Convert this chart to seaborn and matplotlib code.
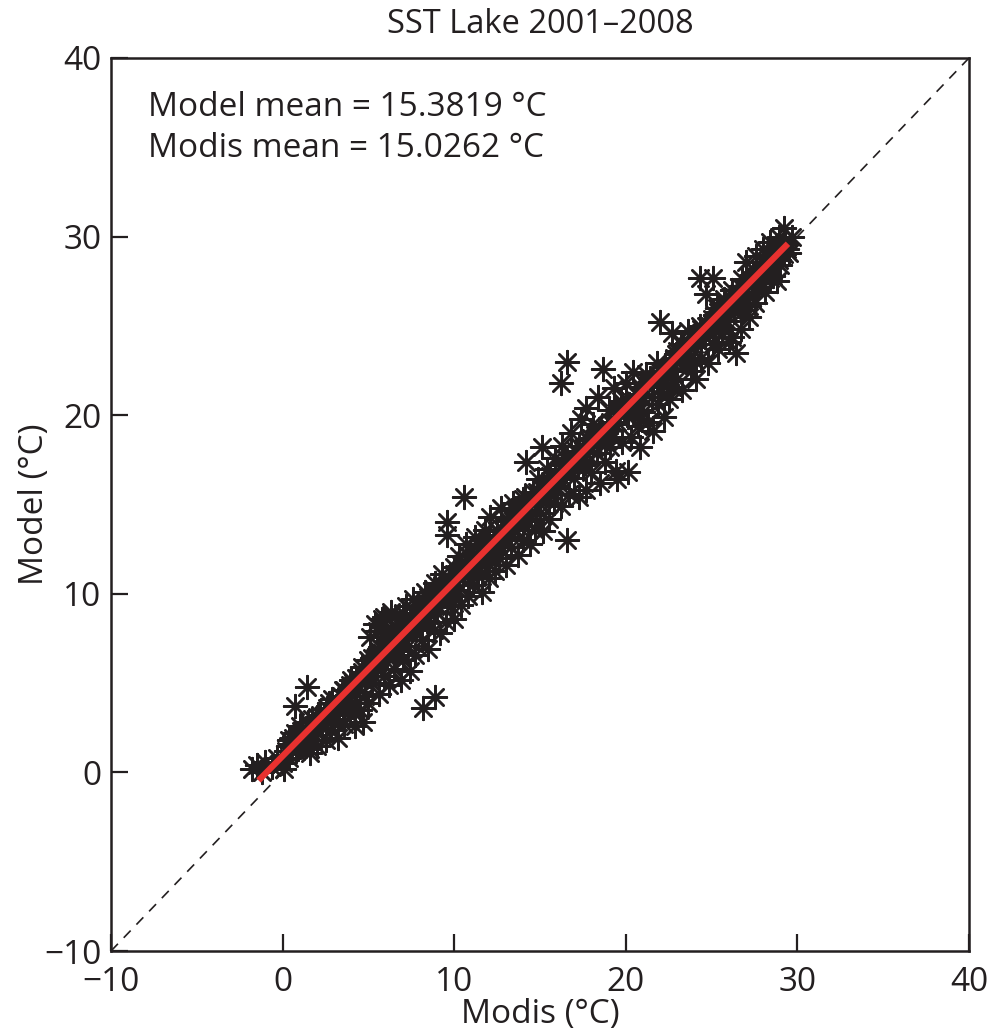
import matplotlib
matplotlib.use("Agg")
import matplotlib.pyplot as plt
import seaborn as sns
import pandas as pd

# ---------------- data ----------------
modis = [
    -1.8, -1.5, -1.2, -1.0, -0.6, -0.3, 0.0, 0.2, 0.4,
    0.5, 0.7, 0.7, 0.9, 1.0, 1.2, 1.4, 1.4, 1.6, 1.7, 1.9, 2.0, 2.2, 2.3, 2.5,
    2.6, 2.8, 2.9, 3.0, 3.2, 3.3, 3.5, 3.6, 3.8, 3.9, 4.0, 4.2, 4.3, 4.5, 4.6, 4.7, 4.8, 5.0, 5.0,
    5.1, 5.2, 5.4, 5.5, 5.6, 5.7, 5.8, 5.9, 6.0, 6.1, 6.2, 6.3, 6.4, 6.5, 6.6, 6.8, 6.9, 7.0, 7.0, 7.2, 7.3, 7.4, 7.5,
    7.6, 7.7, 7.8, 8.0, 8.1, 8.2, 8.3, 8.4, 8.5, 8.6, 8.8, 8.9, 8.9, 9.0, 9.2, 9.3, 9.4, 9.5, 9.6, 9.6, 9.7, 9.8, 10.0, 10.0,
    10.2, 10.3, 10.4, 10.6, 10.6, 10.7, 10.8, 11.0, 11.1, 11.2, 11.4, 11.5, 11.6, 11.8, 11.9, 12.0, 12.1, 12.2, 12.4, 12.5,
    12.6, 12.7, 12.9, 13.0, 13.1, 13.3, 13.4, 13.5, 13.7, 13.8, 14.0, 14.0, 14.2, 14.3, 14.4, 14.6, 14.7, 14.9, 15.0, 15.1, 15.2, 15.3,
    15.4, 15.5, 15.6, 15.8, 15.9, 16.0, 16.2, 16.2, 16.3, 16.4, 16.6, 16.6, 16.6, 16.7, 16.8, 17.0, 17.1, 17.3, 17.4, 17.5,
    17.7, 17.7, 17.8, 18.0, 18.1, 18.3, 18.4, 18.5, 18.7, 18.7, 18.8, 19.0, 19.1, 19.3, 19.4, 19.5, 19.5, 19.7, 19.8, 20.0, 20.1, 20.1,
    20.3, 20.4, 20.5, 20.7, 20.8, 20.9, 21.0, 21.2, 21.3, 21.5, 21.6, 21.8, 21.9, 22.0, 22.1, 22.2, 22.4, 22.5,
    22.7, 22.7, 22.9, 23.0, 23.2, 23.3, 23.5, 23.6, 23.8, 24.0, 24.1, 24.3, 24.3, 24.4, 24.6, 24.7, 24.8, 25.0, 25.1, 25.1,
    25.3, 25.4, 25.6, 25.7, 25.9, 26.0, 26.2, 26.2, 26.3, 26.4, 26.5, 26.7, 26.8, 26.9, 27.0, 27.1, 27.2, 27.4, 27.5,
    27.6, 27.7, 27.9, 28.0, 28.1, 28.3, 28.4, 28.6, 28.7, 28.9, 29.0, 29.2, 29.4, 29.7,
    # dense core along the band
    0.3, 1.1, 1.8, 2.7, 3.4, 4.1, 4.9, 5.6, 6.3, 7.1, 7.9, 8.7, 9.5, 10.3, 11.1, 11.9, 12.7, 13.5, 14.3,
    15.1, 15.9, 16.7, 17.5, 18.3, 19.1, 19.9, 20.7, 21.5, 22.3, 23.1, 23.9, 24.7, 25.5, 26.3, 27.1, 27.9, 28.7,
    0.8, 1.5, 2.4, 3.1, 3.9, 4.4, 5.3, 6.0, 6.7, 7.4, 8.3, 9.1, 9.9, 10.9, 11.6, 12.3, 13.2, 13.9, 14.8,
    15.7, 16.5, 17.2, 18.1, 18.9, 19.6, 20.5, 21.2, 22.0, 22.8, 23.6, 24.4, 25.2, 26.0, 26.8, 27.7, 28.4, 29.1,
    0.1, 1.3, 2.1, 2.9, 3.7, 4.6, 5.4, 6.2, 6.9, 7.7, 8.5, 9.3, 10.1, 10.8, 11.7, 12.5, 13.3, 14.1, 14.9,
    15.6, 16.4, 17.3, 18.2, 18.9, 19.8, 20.6, 21.4, 22.2, 23.0, 23.7, 24.5, 25.4, 26.1, 26.9, 27.6, 28.5, 29.3,
    0.6, 1.6, 2.5, 3.3, 4.2, 5.1, 5.8, 6.6, 7.3, 8.1, 8.9, 9.7, 10.5, 11.3, 12.1, 12.9, 13.7, 14.5, 15.3,
    16.1, 16.9, 17.7, 18.5, 19.3, 20.2, 21.0, 21.8, 22.6, 23.4, 24.2, 25.0, 25.8, 26.6, 27.4, 28.2, 28.9,
    0.4, 1.2, 2.0, 2.8, 3.6, 4.4, 5.2, 6.0, 6.8, 7.6, 8.4, 9.2, 10.0, 10.8, 11.6, 12.4, 13.2, 14.0, 14.8,
    15.6, 16.4, 17.2, 18.0, 18.8, 19.6, 20.4, 21.2, 22.0, 22.8, 23.6, 24.4, 25.2, 26.0, 26.8, 27.6, 28.4, 29.2,
    0.9, 1.7, 2.6, 3.5, 4.3, 5.1, 5.9, 6.5, 7.2, 8.0, 8.8, 9.6, 10.4, 11.2, 12.0, 12.8, 13.6, 14.4, 15.2,
    16.0, 16.8, 17.6, 18.4, 19.2, 20.0, 20.8, 21.6, 22.4, 23.2, 24.0, 24.8, 25.6, 26.4, 27.2, 28.0, 28.8, 29.5,
    5.5, 5.9, 6.3, 6.6, 7.0,
]
model = [
    0.2, 0.4, 0.0, 0.6, 0.3, 0.8, 0.5, 1.2, 0.8,
    1.6, 2.2, 3.7, 1.4, 2.6, 1.9, 4.8, 2.4, 1.3, 3.0, 2.1, 1.5, 3.2, 2.5, 1.8,
    3.6, 2.4, 4.1, 3.0, 1.9, 3.8, 4.6, 2.7, 4.0, 3.2, 5.2, 2.6, 4.5, 3.5, 5.6, 2.8, 4.3, 6.3, 3.9,
    7.6, 5.0, 8.3, 6.1, 4.4, 7.0, 8.6, 5.4, 7.8, 6.5, 4.9, 8.8, 7.2, 5.8, 8.2, 6.8, 5.2, 7.9, 6.3, 9.3, 7.1, 5.7, 8.6,
    9.7, 6.6, 8.0, 9.2, 7.4, 3.6, 10.1, 8.5, 6.9, 9.6, 8.0, 4.2, 10.6, 9.0, 7.8, 11.1, 9.9, 8.4, 14.0, 13.3, 10.8, 9.3, 11.5, 8.6,
    10.2, 12.1, 9.4, 15.4, 11.2, 12.8, 9.9, 11.9, 10.5, 13.2, 11.0, 12.6, 10.1, 13.6, 11.8, 10.9, 14.3, 12.4, 11.3, 13.5,
    12.0, 14.8, 13.0, 11.6, 14.2, 12.6, 15.1, 13.7, 12.2, 14.6, 15.3, 13.0, 17.4, 14.1, 12.8, 15.7, 13.6, 16.4, 14.5, 18.2, 13.5, 15.9,
    17.0, 14.2, 16.3, 15.1, 17.6, 16.0, 21.8, 14.9, 18.3, 16.8, 13.0, 17.5, 23.0, 15.6, 19.0, 16.5, 18.0, 15.4, 19.8, 17.2,
    15.8, 20.4, 18.6, 16.8, 19.5, 17.9, 21.0, 16.2, 22.6, 19.0, 17.4, 20.3, 18.2, 21.5, 16.9, 16.4, 19.6, 20.8, 18.5, 21.8, 16.8, 19.9,
    18.8, 22.4, 20.9, 19.4, 18.2, 21.6, 20.2, 22.3, 19.6, 21.0, 19.1, 22.9, 20.6, 25.2, 21.7, 19.9, 22.5, 20.9,
    24.6, 21.6, 23.4, 22.0, 24.0, 21.4, 23.0, 24.7, 22.5, 23.8, 22.0, 27.7, 25.0, 23.2, 24.4, 26.8, 22.9, 25.4, 27.7, 24.0,
    26.0, 23.7, 24.9, 26.5, 25.3, 24.1, 24.4, 27.0, 25.8, 23.5, 26.6, 24.8, 27.6, 25.9, 28.6, 26.8, 25.5, 27.9, 26.3,
    28.9, 27.2, 28.1, 29.3, 26.9, 28.6, 29.7, 27.8, 29.1, 30.0, 28.4, 30.5, 29.3, 30.0,
    1.5, 2.3, 2.5, 3.9, 4.3, 5.0, 5.6, 6.8, 7.3, 7.9, 8.8, 9.3, 10.2, 11.0, 11.7, 12.6, 13.3, 14.0, 14.9,
    15.6, 16.5, 17.3, 18.0, 18.8, 19.6, 20.4, 21.2, 21.9, 22.7, 23.5, 24.3, 25.0, 25.8, 26.6, 27.4, 28.1, 28.9,
    1.2, 2.8, 3.2, 3.7, 4.9, 5.3, 6.1, 6.6, 7.6, 8.4, 8.7, 9.8, 10.4, 11.4, 12.2, 13.0, 13.6, 14.7, 15.2,
    16.1, 16.9, 17.8, 18.4, 19.4, 20.1, 20.8, 21.7, 22.4, 23.2, 23.9, 24.8, 25.6, 26.2, 27.1, 27.8, 28.5, 29.4,
    0.2, 1.6, 3.0, 2.9, 4.3, 5.9, 6.4, 7.4, 7.6, 8.8, 9.8, 10.5, 11.1, 12.2, 12.8, 13.6, 14.3, 15.4, 15.5,
    16.6, 16.9, 18.3, 18.9, 19.4, 20.6, 21.2, 22.1, 22.5, 23.6, 24.0, 24.6, 25.8, 26.6, 27.1, 28.0, 28.8, 29.6,
    1.9, 1.1, 3.3, 3.6, 3.9, 5.6, 6.7, 6.6, 8.3, 8.5, 9.5, 9.8, 11.3, 11.6, 12.3, 13.5, 13.8, 14.6, 15.6,
    16.4, 17.5, 17.9, 18.9, 19.5, 20.6, 21.0, 22.0, 22.6, 23.2, 24.4, 25.1, 25.7, 26.3, 27.3, 28.2, 28.7,
    1.8, 1.6, 3.1, 3.0, 4.6, 4.9, 6.4, 6.5, 8.0, 8.1, 9.5, 9.6, 11.1, 11.2, 12.6, 12.7, 14.1, 14.2, 15.7,
    15.6, 17.2, 17.1, 18.7, 18.6, 20.1, 20.2, 21.7, 21.6, 23.1, 23.2, 24.6, 24.7, 26.1, 26.2, 27.6, 27.7, 29.0,
    1.3, 2.5, 3.0, 3.6, 5.3, 5.4, 6.9, 7.7, 8.0, 8.5, 10.2, 10.0, 11.6, 11.5, 13.1, 13.0, 14.6, 14.4, 16.0,
    15.9, 17.4, 17.3, 18.9, 18.8, 20.4, 20.3, 21.9, 21.7, 23.3, 23.1, 24.8, 24.6, 26.3, 26.1, 27.7, 27.5, 29.1,
    7.9, 8.7, 9.0, 8.2, 8.9,
]

fit_x = [-1.4, 29.45]       # regression line end points
fit_y = [-0.45, 29.6]
one_to_one = [-10, 40]

ticks = [-10, 0, 10, 20, 30, 40]
title = "SST Lake 2001\u20132008"
xlabel = "Modis (\u00b0C)"
ylabel = "Model (\u00b0C)"
notes = ["Model mean = 15.3819 \u00b0C", "Modis mean = 15.0262 \u00b0C"]

# ---------------- figure ----------------
sns.set_theme(style="white")
plt.rcParams["font.family"] = ["Open Sans", "DejaVu Sans"]
plt.rcParams["axes.unicode_minus"] = True

fig = plt.figure(figsize=(9.92, 10.34), dpi=100)
ax = fig.add_axes([111 / 992, 1 - 951 / 1034, 858 / 992, 893 / 1034])

ink = "#231f20"
df = pd.DataFrame({"Modis": modis, "Model": model})

ax.plot(one_to_one, one_to_one, color=ink, lw=1.2, dashes=(6, 5), zorder=1)
sns.scatterplot(data=df, x="Modis", y="Model", marker=(8, 2, 0), s=270,
                color=ink, linewidth=1.8, ax=ax, zorder=2, legend=False)
ax.plot(fit_x, fit_y, color="#e8312f", lw=4.5, solid_capstyle="butt", zorder=3)

ax.set_xlim(-10, 40)
ax.set_ylim(-10, 40)
ax.set_xticks(ticks)
ax.set_yticks(ticks)
ax.tick_params(axis="both", direction="in", length=12, width=1.6,
               labelsize=24, colors=ink,
               bottom=True, left=True, top=False, right=False)
ax.tick_params(axis="x", pad=11)
ax.tick_params(axis="y", pad=7)
for sp in ax.spines.values():
    sp.set_color(ink)
    sp.set_linewidth(1.8)

ax.set_xlabel(xlabel, fontsize=24, color=ink, labelpad=-1)
ax.set_ylabel(ylabel, fontsize=24, color=ink, labelpad=-5)
ax.set_title(title, fontsize=23.5, color=ink, pad=18)

ax.text(0.043, 0.945, notes[0], transform=ax.transAxes, fontsize=24,
        color=ink, va="center", ha="left")
ax.text(0.043, 0.899, notes[1], transform=ax.transAxes, fontsize=24,
        color=ink, va="center", ha="left")

fig.savefig("out.png", dpi=100)
